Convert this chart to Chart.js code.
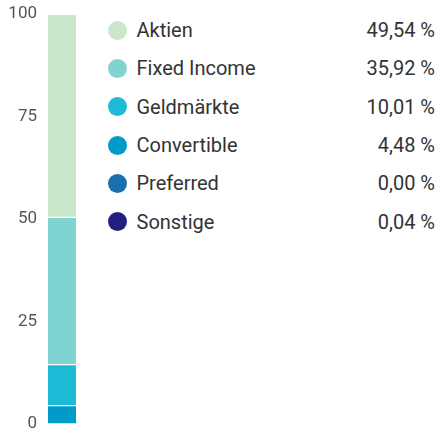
<!DOCTYPE html>
<html>
<head>
<meta charset="utf-8">
<script src="https://cdn.jsdelivr.net/npm/chart.js@4"></script>
<style>
  body { margin: 0; background: #fff; font-family: Roboto, sans-serif; }
  #wrap { position: relative; width: 439px; height: 434px; }
  #chartBox { position: absolute; left: 0; top: 0; width: 80px; height: 434px; }
  #legend { position: absolute; left: 108px; top: 11px; width: 327px; }
  .row { display: flex; align-items: center; height: 38.33px; font-size: 20px; color: #333; }
  .dot { width: 19px; height: 19px; border-radius: 50%; margin-right: 9.5px; flex: none; }
  .lbl { flex: 1; }
  .val { text-align: right; }
</style>
</head>
<body>
<div id="wrap">
  <div id="chartBox"><canvas id="allocChart"></canvas></div>
  <div id="legend"></div>
</div>
<script>
// Asset allocation (percent)
const categories = ["Aktien", "Fixed Income", "Geldmärkte", "Convertible", "Preferred", "Sonstige"];
const shares = [49.54, 35.92, 10.01, 4.48, 0.00, 0.04];
const colors = ["#c8e8c9", "#7fd3d0", "#1fbad6", "#009bc9", "#1c6fad", "#1f217f"];
const yTicks = [0, 25, 50, 75, 100];
// bottom-to-top stacking order
const stackOrder = [3, 2, 1, 0, 4, 5];

// ✅ legend on the right
const legendEl = document.getElementById("legend");
categories.forEach((name, i) => {
  const row = document.createElement("div");
  row.className = "row";
  row.innerHTML = '<span class="dot" style="background:' + colors[i] + '"></span>' +
    '<span class="lbl">' + name + '</span>' +
    '<span class="val">' + shares[i].toFixed(2).replace(".", ",") + ' %</span>';
  legendEl.appendChild(row);
});

// ✅ Chart Initialization
const ctx = document.getElementById("allocChart").getContext("2d");
const allocChart = new Chart(ctx, {
  type: "bar",
  data: {
    labels: [""],
    datasets: stackOrder.map(i => ({
      label: categories[i],
      data: [shares[i]],
      backgroundColor: colors[i],
      borderColor: "#fff",
      borderWidth: { top: 1, bottom: 1 },
      borderSkipped: false,
      barThickness: 28
    }))
  },
  options: {
    responsive: true,
    maintainAspectRatio: false,
    animation: false,
    layout: { padding: { top: 14, bottom: 10, left: 0, right: 0 } },
    scales: {
      x: { stacked: true, display: false },
      y: {
        stacked: true,
        min: 0,
        max: 100,
        afterBuildTicks: axis => { axis.ticks = yTicks.map(v => ({ value: v })); },
        afterFit: axis => {
          axis.width = 44;
          axis.paddingTop = 0;
          axis.paddingBottom = 0;
        },
        grid: { display: false, drawTicks: false },
        border: { display: false },
        ticks: {
          padding: 7,
          color: "#555",
          font: { family: "Roboto", size: 17 }
        }
      }
    },
    plugins: {
      legend: { display: false },
      tooltip: { enabled: false }
    }
  }
});
</script>
</body>
</html>
